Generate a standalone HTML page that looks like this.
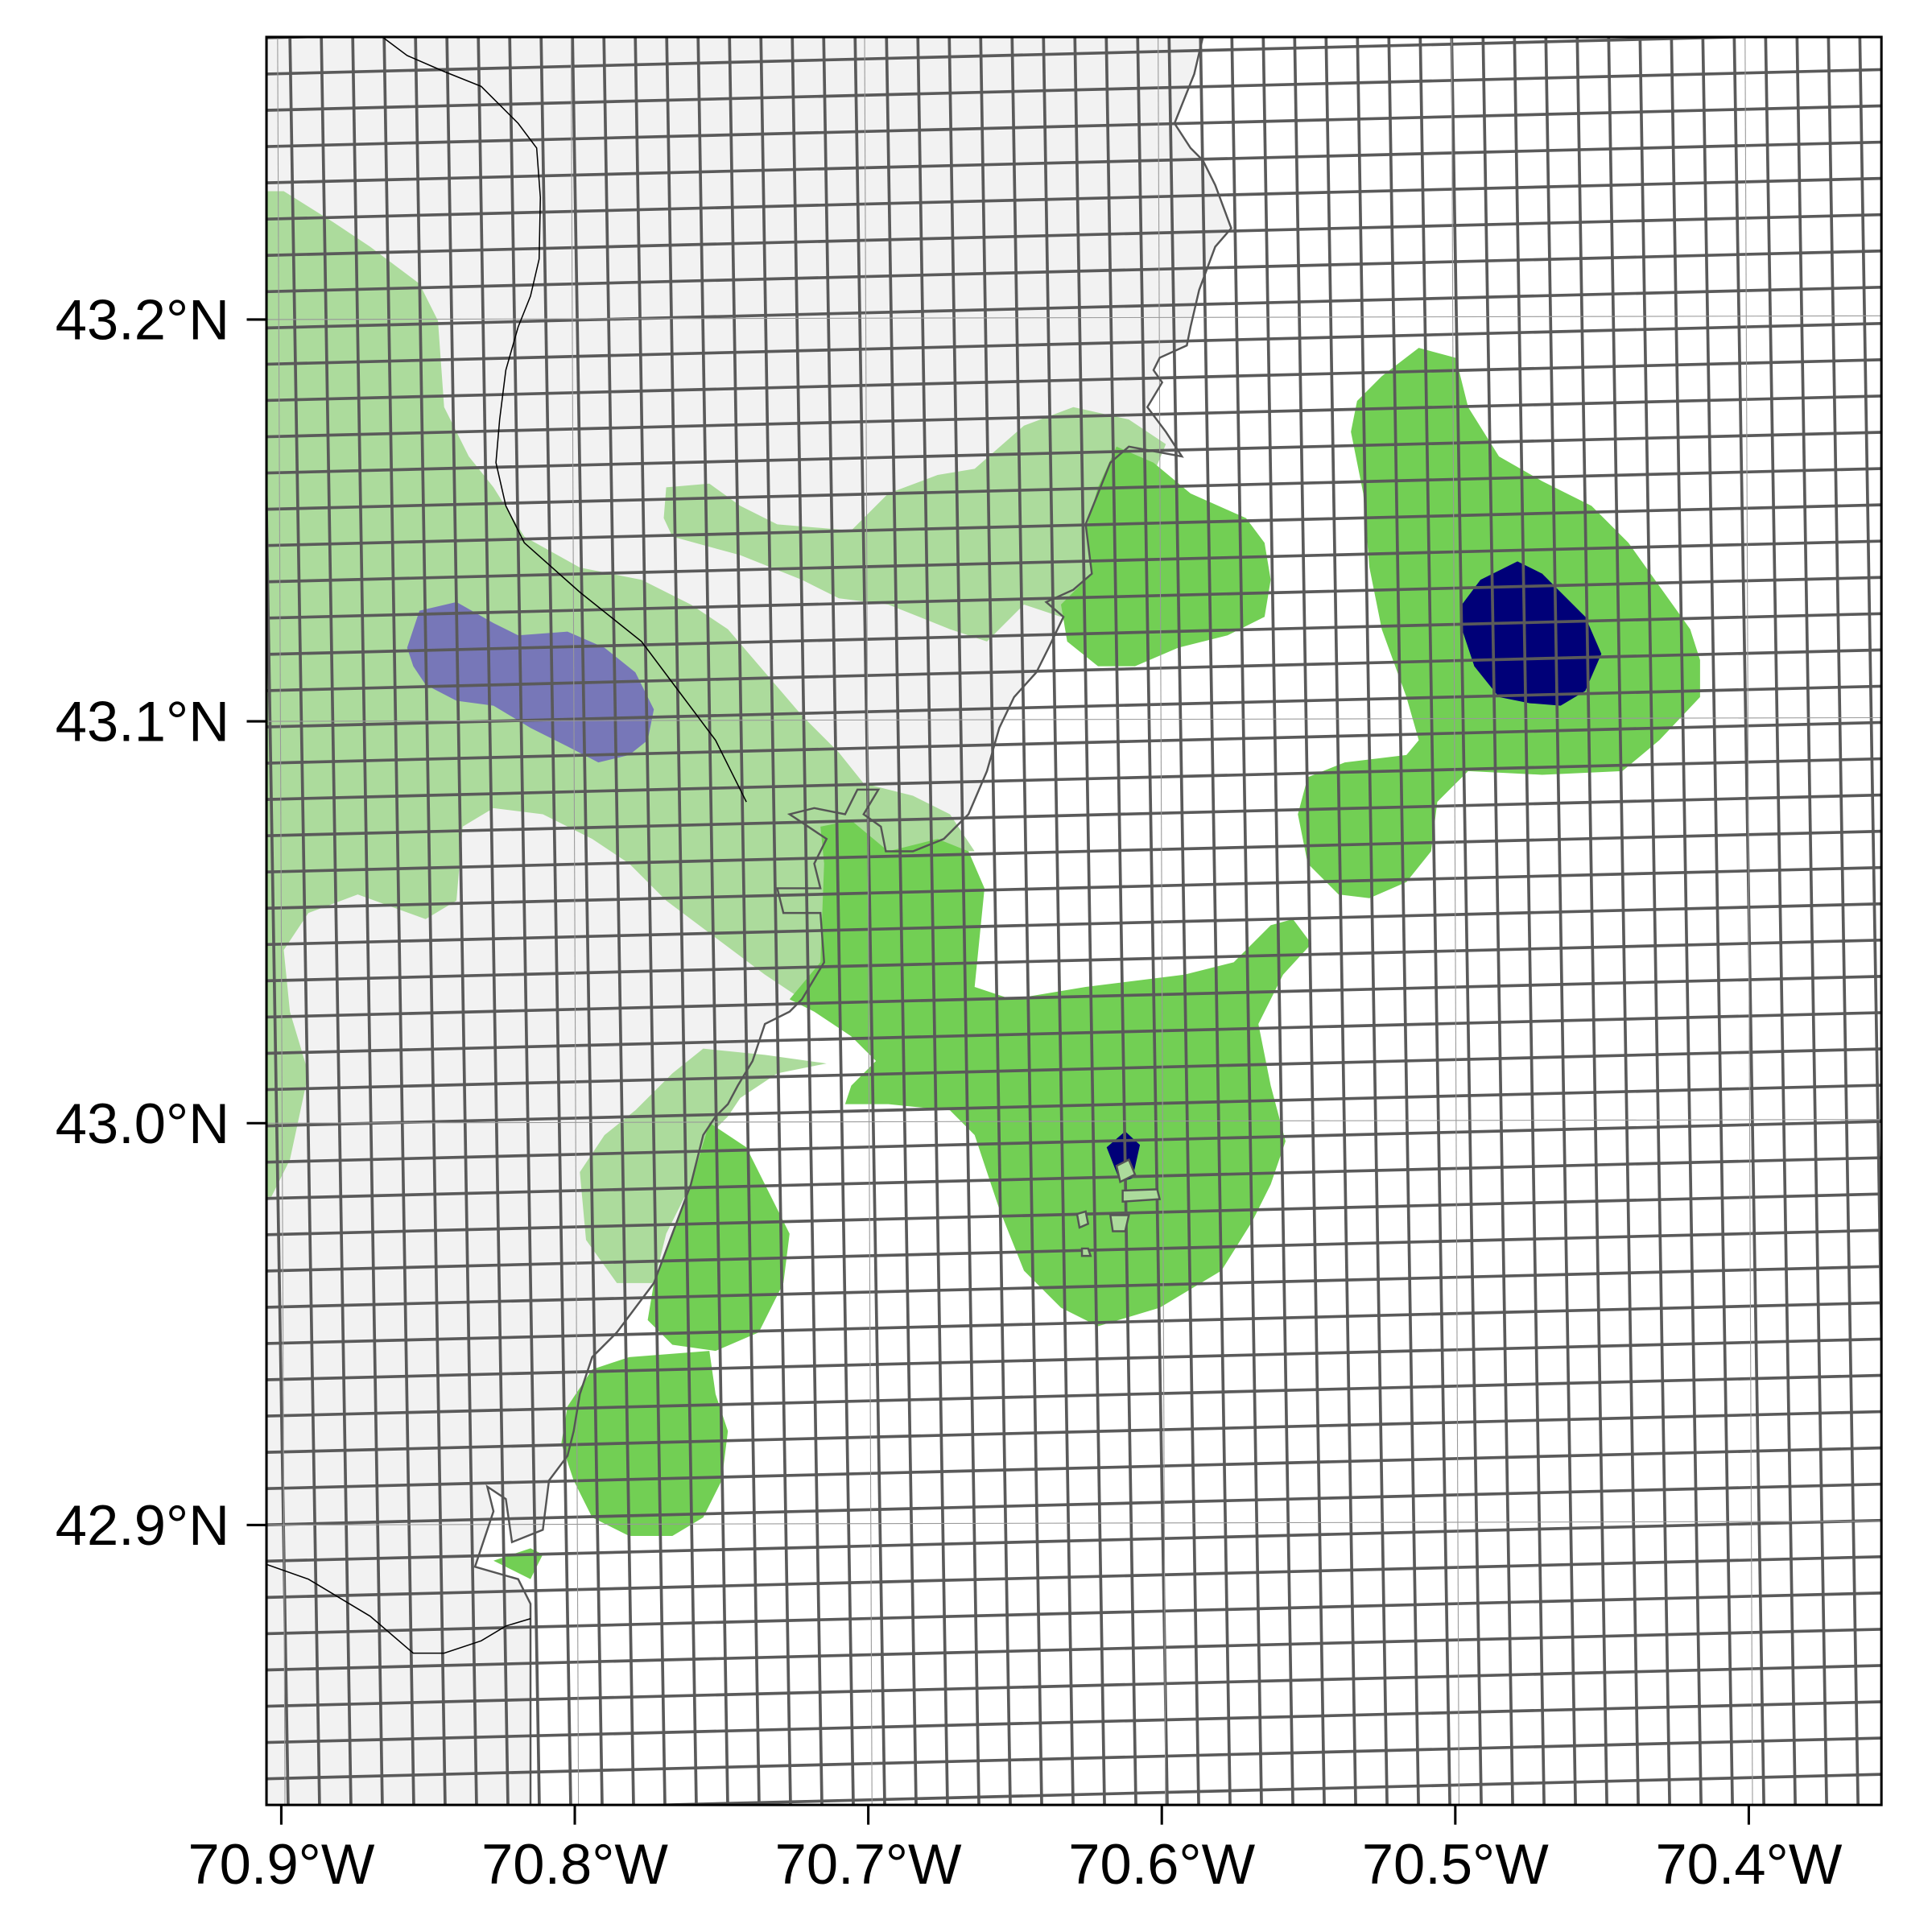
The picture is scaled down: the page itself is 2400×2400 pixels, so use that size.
<!DOCTYPE html>
<html><head><meta charset="utf-8"><style>html,body{margin:0;padding:0;background:#fff}svg{display:block}</style></head>
<body>
<svg id="map" width="2400" height="2400" viewBox="0 0 1566 1566" xmlns="http://www.w3.org/2000/svg" font-family="Liberation Sans, sans-serif">
<defs><clipPath id="clip"><rect x="216" y="30" width="1309" height="1433"/></clipPath></defs>
<rect width="1566" height="1566" fill="#fff"/>
<g clip-path="url(#clip)" id="plot">
<path fill="#f2f2f2" d="M216,30 L975,30 L968,60 L952,100 L965,120 L975,130 L985,150 L998,185 L985,200 L972,235 L965,265 L962,280 L940,290 L935,300 L942,310 L930,330 L945,350 L958,370 L915,362 L900,375 L890,400 L880,425 L885,465 L870,478 L848,488 L862,500 L850,525 L840,545 L822,565 L810,590 L800,625 L785,660 L765,680 L740,690 L718,690 L714,670 L700,660 L712,640 L695,640 L685,660 L660,655 L640,660 L655,670 L670,680 L660,700 L665,720 L630,720 L635,740 L665,740 L668,780 L650,810 L640,820 L620,830 L610,860 L598,880 L590,895 L580,905 L570,920 L560,960 L545,1000 L530,1040 L515,1060 L500,1080 L480,1100 L470,1130 L465,1160 L460,1180 L445,1200 L440,1240 L415,1250 L410,1215 L395,1205 L400,1225 L385,1270 L420,1280 L430,1300 L430,1463 L216,1463 Z"/>
<path fill="#acdb9c" d="M216,155 L230,155 L270,180 L300,200 L340,230 L355,260 L360,330 L380,370 L400,395 L425,435 L470,460 L520,470 L560,490 L590,510 L620,545 L650,580 L680,610 L700,635 L740,645 L770,660 L790,690 L760,690 L700,700 L670,800 L650,810 L620,790 L580,760 L540,730 L510,700 L480,680 L440,660 L400,655 L375,670 L370,730 L345,745 L290,725 L250,740 L230,770 L235,820 L250,870 L235,940 L220,970 L216,970 Z"/>
<path fill="#acdb9c" d="M540,395 L575,392 L600,410 L630,425 L690,430 L720,400 L760,385 L790,380 L830,345 L870,330 L915,340 L945,360 L920,420 L880,470 L860,500 L830,490 L800,520 L770,510 L720,490 L680,485 L650,470 L600,450 L545,435 L538,420 Z"/>
<path fill="#acdb9c" d="M570,850 L620,855 L670,862 L630,870 L600,890 L590,905 L575,920 L560,960 L540,1000 L530,1040 L500,1040 L475,1005 L470,950 L490,920 L515,900 L545,870 Z"/>
<path fill="#72cf54" d="M665,670 L690,665 L720,690 L760,680 L785,690 L798,720 L790,800 L820,810 L880,800 L960,790 L1000,780 L1030,750 L1048,745 L1063,765 L1040,790 L1020,830 L1030,880 L1042,925 L1030,960 L1015,990 L990,1030 L940,1060 L890,1075 L860,1060 L830,1030 L810,980 L800,950 L790,920 L770,900 L720,895 L685,895 L690,880 L710,860 L690,840 L660,820 L640,810 L665,780 L668,700 Z"/>
<path fill="#72cf54" d="M905,362 L935,375 L965,400 L1010,420 L1025,440 L1030,470 L1025,500 L995,515 L955,525 L920,540 L890,540 L865,520 L860,490 L885,465 L880,430 L890,395 Z"/>
<path fill="#72cf54" d="M1100,325 L1120,305 L1150,282 L1180,290 L1190,330 L1215,370 L1250,390 L1290,410 L1320,440 L1345,475 L1370,510 L1378,535 L1378,565 L1345,600 L1315,625 L1250,628 L1190,625 L1165,650 L1160,690 L1140,715 L1110,728 L1085,725 L1060,700 L1052,660 L1060,630 L1090,618 L1140,612 L1150,600 L1140,565 L1120,510 L1110,460 L1105,400 L1095,350 Z"/>
<path fill="#72cf54" d="M575,910 L605,930 L625,970 L640,1000 L635,1040 L615,1080 L580,1095 L545,1090 L525,1070 L530,1040 L545,1000 L560,960 Z"/>
<path fill="#72cf54" d="M480,1110 L510,1100 L575,1095 L580,1130 L590,1160 L585,1200 L570,1230 L545,1245 L510,1245 L480,1230 L465,1200 L455,1170 L460,1140 Z"/>
<path fill="#72cf54" d="M400,1265 L430,1255 L440,1260 L430,1280 Z"/>
<path fill="#7777b8" d="M330,525 L340,495 L370,488 L400,505 L420,515 L460,512 L490,525 L515,545 L530,575 L525,600 L510,612 L485,618 L460,605 L430,590 L400,572 L370,568 L345,555 L335,540 Z"/>
<path fill="#000078" d="M1185,490 L1200,470 L1230,455 L1250,465 L1285,500 L1298,530 L1285,560 L1265,572 L1240,570 L1215,565 L1195,540 L1185,510 Z"/>
<path fill="#000078" d="M897,930 L912,917 L924,928 L918,955 L908,958 Z"/>
<g id="grid" stroke="#5a5a5a" stroke-width="2.4" fill="none"></g>
<g id="graticule" stroke="#999" stroke-width="0.7" fill="none"></g>
<path fill="none" stroke="#555" stroke-width="1.6" d="M975,30 L968,60 L952,100 L965,120 L975,130 L985,150 L998,185 L985,200 L972,235 L965,265 L962,280 L940,290 L935,300 L942,310 L930,330 L945,350 L958,370 L915,362 L900,375 L890,400 L880,425 L885,465 L870,478 L848,488 L862,500 L850,525 L840,545 L822,565 L810,590 L800,625 L785,660 L765,680 L740,690 L718,690 L714,670 L700,660 L712,640 L695,640 L685,660 L660,655 L640,660 L655,670 L670,680 L660,700 L665,720 L630,720 L635,740 L665,740 L668,780 L650,810 L640,820 L620,830 L610,860 L598,880 L590,895 L580,905 L570,920 L560,960 L545,1000 L530,1040 L515,1060 L500,1080 L480,1100 L470,1130 L465,1160 L460,1180 L445,1200 L440,1240 L415,1250 L410,1215 L395,1205 L400,1225 L385,1270 L420,1280 L430,1300 L430,1463"/>
<path fill="#acdb9c" stroke="#555" stroke-width="1.6" d="M908,958 L905,945 L915,940 L920,952 Z M910,965 L938,964 L940,972 L910,974 Z M873,984 L880,982 L882,992 L875,995 Z M900,985 L915,985 L912,998 L902,998 Z M877,1012 L882,1012 L884,1018 L877,1018 Z"/>
<path fill="none" stroke="#000" stroke-width="1" d="M310,30 L330,45 L360,58 L390,70 L420,100 L435,120 L438,160 L437,210 L430,240 L420,265 L410,300 L405,340 L402,375 L410,410 L425,440 L470,480 L520,520 L550,560 L580,600 L605,650 M216,1268 L250,1280 L300,1310 L335,1340 L360,1340 L390,1330 L410,1318 L430,1312"/>
</g>
<rect x="216" y="30" width="1309" height="1433" fill="none" stroke="#000" stroke-width="2"/>
<g id="axes"></g>
<script>
const lonTicks = [-70.9, -70.8, -70.7, -70.6, -70.5, -70.4];
const lonLabels = ["70.9°W", "70.8°W", "70.7°W", "70.6°W", "70.5°W", "70.4°W"];
const latTicks = [43.2, 43.1, 43.0, 42.9];
const latLabels = ["43.2°N", "43.1°N", "43.0°N", "42.9°N"];
const NS = "http://www.w3.org/2000/svg";
function xScale(lon){ return 228 + (lon + 70.9) * 2379; }
function yScale(lat){ return 259 + (43.2 - lat) * 3257; }
function mk(tag, attrs, parent){ const e=document.createElementNS(NS,tag); for(const k in attrs) e.setAttribute(k,attrs[k]); parent.appendChild(e); return e; }
const grid=document.getElementById('grid');
for(let i=-3;i<56;i++){ const x0=235+i*25.45; const l=mk('line',{x1:x0,y1:30,x2:x0+24,y2:1463},grid);

 }
for(let j=-2;j<52;j++){ const y0=60+j*29.4; const l=mk('line',{x1:216,y1:y0,x2:1525,y2:y0-33},grid);

 }
const grat=document.getElementById('graticule');
lonTicks.forEach(v=>{ const x=xScale(v); const l=mk('line',{x1:x-3,y1:30,x2:x+3,y2:1463},grat);

 });
latTicks.forEach(v=>{ const y=yScale(v); const l=mk('line',{x1:216,y1:y,x2:1525,y2:y-3},grat);

 });
const axes=document.getElementById('axes');
lonTicks.forEach((v,i)=>{ const x=xScale(v);
const t=mk('line',{x1:x,y1:1463,x2:x,y2:1479,stroke:'#000','stroke-width':2},axes);


const tx=mk('text',{x:x,y:1527,'text-anchor':'middle','font-size':46,fill:'#000'},axes);
tx.textContent=lonLabels[i];

 });
latTicks.forEach((v,i)=>{ const y=yScale(v);
const t=mk('line',{x1:200,y1:y,x2:216,y2:y,stroke:'#000','stroke-width':2},axes);


const tx=mk('text',{x:186,y:y+16,'text-anchor':'end','font-size':46,fill:'#000'},axes);
tx.textContent=latLabels[i];

 });
</script>
</svg>
</body></html>
